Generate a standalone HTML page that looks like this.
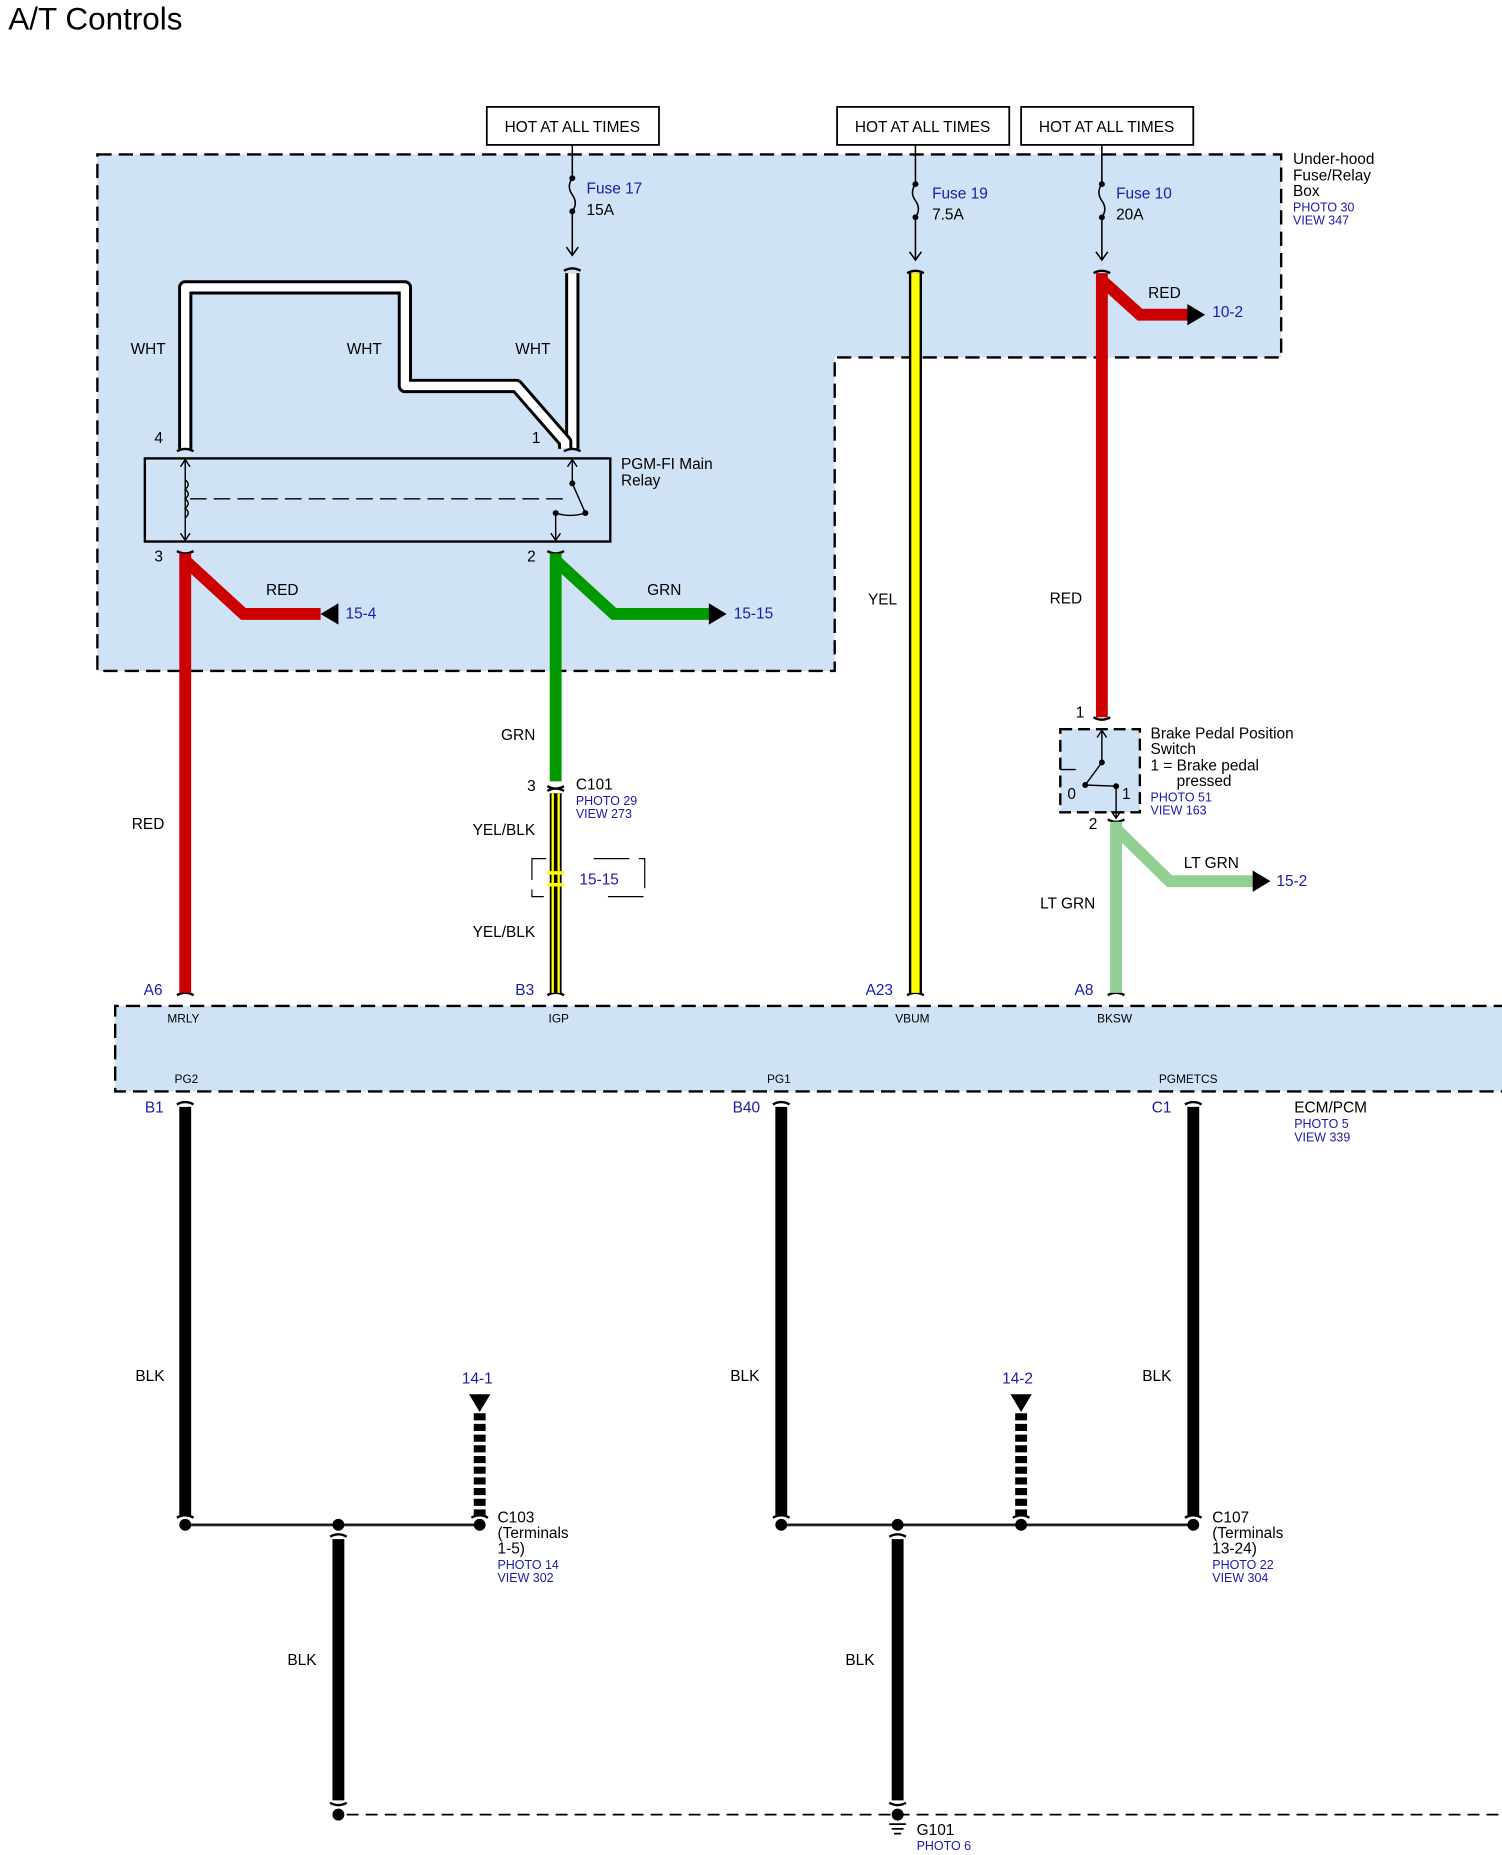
<!DOCTYPE html>
<html><head><meta charset="utf-8"><style>
html,body{margin:0;padding:0;background:#fff;}
svg{display:block;}
text{font-family:"Liberation Sans",Arial,sans-serif;font-size:13px;fill:#000;}
.b{fill:#1a1aa8;}
.s{font-size:10.5px;}
.x{font-size:10px;}
</style></head><body>
<svg width="1502" height="1855" viewBox="0 0 1265 1562" preserveAspectRatio="none" xmlns="http://www.w3.org/2000/svg">
<text x="7" y="25" style="font-size:26.5px">A/T Controls</text>
<!-- upper box -->
<path d="M82,130 H1079 V301 H703 V565 H82 Z" fill="#d0e2f5" stroke="#000" stroke-width="2" stroke-dasharray="12,6"/>
<!-- ECM box -->
<path d="M1270,847 H97 V919 H1270" fill="#d0e2f5" stroke="#000" stroke-width="2" stroke-dasharray="12,6"/>
<!-- HOT boxes -->
<g fill="#fff" stroke="#000" stroke-width="1.5">
<rect x="410" y="90" width="145" height="32"/><rect x="705" y="90" width="145" height="32"/><rect x="860" y="90" width="145" height="32"/>
</g>
<text x="482" y="111" text-anchor="middle">HOT AT ALL TIMES</text>
<text x="777" y="111" text-anchor="middle">HOT AT ALL TIMES</text>
<text x="932" y="111" text-anchor="middle">HOT AT ALL TIMES</text>
<text x="1089" y="138">Under-hood</text><text x="1089" y="152">Fuse/Relay</text><text x="1089" y="165">Box</text>
<text x="1089" y="178" class="b s">PHOTO 30</text><text x="1089" y="189" class="b s">VIEW 347</text>
<!-- fuses -->
<g fill="none" stroke="#000" stroke-width="1.3">
<path d="M482,122 V150 q-5,7 0,14 q5,7 0,14 V214 M477,208 L482,215 L487,208"/>
<path d="M771,122 V155 q-5,7 0,14 q5,7 0,14 V218 M766,212 L771,219 L776,212"/>
<path d="M928,122 V155 q-5,7 0,14 q5,7 0,14 V218 M923,212 L928,219 L933,212"/>
</g>
<g fill="#000"><circle cx="482" cy="150" r="2.5"/><circle cx="482" cy="178" r="2.5"/><circle cx="771" cy="155" r="2.5"/><circle cx="771" cy="183" r="2.5"/><circle cx="928" cy="155" r="2.5"/><circle cx="928" cy="183" r="2.5"/></g>
<text x="494" y="163" class="b">Fuse 17</text><text x="494" y="181">15A</text>
<text x="785" y="167" class="b">Fuse 19</text><text x="785" y="185">7.5A</text>
<text x="940" y="167" class="b">Fuse 10</text><text x="940" y="185">20A</text>
<!-- white wires -->
<g fill="none" stroke-linejoin="round">
<path d="M482,230 V378" stroke="#000" stroke-width="12"/>
<path d="M482,230 V378" stroke="#fff" stroke-width="7"/>
<path d="M156,378 V242 H341 V325 H435 L476,372 V378" stroke="#000" stroke-width="12"/>
<path d="M156,378 V242 H341 V325 H435 L476,372 V378" stroke="#fff" stroke-width="7"/>
</g>
<text x="110" y="298">WHT</text><text x="292" y="298">WHT</text><text x="434" y="298">WHT</text>
<text x="130" y="373">4</text><text x="448" y="373">1</text>
<!-- relay -->
<rect x="122" y="386" width="392" height="70" fill="none" stroke="#000" stroke-width="2"/>
<text x="523" y="395">PGM-FI Main</text><text x="523" y="409">Relay</text>
<g fill="none" stroke="#000" stroke-width="1.2">
<path d="M156,388 V454 M152,393 L156,387 L160,393 M152,449 L156,455 L160,449"/>
<path d="M156,404 q5,4 0,8 q5,4 0,8 q5,4 0,8 q5,4 0,8"/>
<path d="M160,420 H478" stroke-dasharray="14,6"/>
<path d="M482,388 V407 L493,432 M478,393 L482,387 L486,393"/>
<path d="M468,432 V454 M464,449 L468,455 L472,449 M468,432 Q480,436 493,432" />
</g>
<circle cx="482" cy="407" r="2.5"/><circle cx="493" cy="432" r="2.5"/><circle cx="468" cy="432" r="2.5"/>
<text x="130" y="473">3</text><text x="444" y="473">2</text>
<!-- connector ticks -->
<g fill="none" stroke="#000" stroke-width="2">
<path d="M149,380 q7,-4 14,0 M475,380 q7,-4 14,0 M475,228 q7,-4 14,0 M764,230 q7,-4 14,0 M921,230 q7,-4 14,0"/>
<path d="M149,464 q7,4 14,0 M461,464 q7,4 14,0 M461,662 q7,4 14,0 M461,666 q7,-4 14,0 M921,604 q7,4 14,0 M933,690 q7,4 14,0"/>
<path d="M149,838 q7,-4 14,0 M461,838 q7,-4 14,0 M764,838 q7,-4 14,0 M933,838 q7,-4 14,0"/>
<path d="M149,930 q7,-4 14,0 M651,930 q7,-4 14,0 M998,930 q7,-4 14,0"/>
<path d="M149,1278 q7,-4 14,0 M651,1278 q7,-4 14,0 M998,1278 q7,-4 14,0 M397,1278 q7,-4 14,0 M853,1278 q7,-4 14,0"/>
<path d="M278,1294 q7,-4 14,0 M749,1294 q7,-4 14,0 M278,1518 q7,4 14,0 M749,1518 q7,4 14,0"/>
</g>
<!-- red wires -->
<g fill="none" stroke="#cc0000" stroke-width="10">
<path d="M156,466 V836"/><path d="M156,472 L205,517 H270"/>
<path d="M928,230 V604"/><path d="M928,236 L960,265 H1002"/>
</g>
<path d="M270,517 L285,508 V526 Z"/>
<path d="M1015,265 L1000,256 V274 Z"/>
<text x="224" y="501">RED</text><text x="291" y="521" class="b">15-4</text>
<text x="967" y="251">RED</text><text x="1021" y="267" class="b">10-2</text>
<text x="884" y="508">RED</text><text x="111" y="698">RED</text>
<!-- green -->
<g fill="none" stroke="#009900" stroke-width="10"><path d="M468,466 V658"/><path d="M468,472 L517,517 H598"/></g>
<path d="M612,517 L597,508 V526 Z"/>
<text x="545" y="501">GRN</text><text x="618" y="521" class="b">15-15</text><text x="422" y="623">GRN</text>
<!-- C101 -->
<text x="444" y="666">3</text><text x="485" y="665">C101</text>
<text x="485" y="678" class="b s">PHOTO 29</text><text x="485" y="689" class="b s">VIEW 273</text>
<path d="M468,668 V836" stroke="#000" stroke-width="10"/>
<path d="M465.5,668 V836 M470.5,668 V836" stroke="#ffff00" stroke-width="2"/>
<path d="M461,735 H475 M461,745 H475" stroke="#ffff00" stroke-width="3"/>
<path d="M460,723 H448 V755 H458 M500,723 H543 V755 H510" fill="none" stroke="#000" stroke-width="1" stroke-dasharray="30,8"/>
<text x="488" y="745" class="b">15-15</text>
<text x="398" y="703">YEL/BLK</text><text x="398" y="789">YEL/BLK</text>
<!-- yellow -->
<path d="M771,230 V836" stroke="#000" stroke-width="11"/>
<path d="M771,230 V836" stroke="#ffff00" stroke-width="7"/>
<text x="731" y="509">YEL</text>
<!-- brake switch -->
<rect x="893" y="614" width="67" height="70" fill="#d0e2f5" stroke="#000" stroke-width="2" stroke-dasharray="10,5"/>
<g fill="none" stroke="#000" stroke-width="1.2">
<path d="M928,616 V642 L914,661 M924,621 L928,615 L932,621"/>
<path d="M940,662 V688 M936,683 L940,689 L944,683 M914,661 L940,662" />
<path d="M893,648 H906"/>
</g>
<circle cx="928" cy="642" r="2.5"/><circle cx="914" cy="661" r="2.5"/><circle cx="940" cy="662" r="2.5"/>
<text x="899" y="673">0</text><text x="945" y="673">1</text>
<text x="906" y="604">1</text><text x="917" y="698">2</text>
<text x="969" y="622">Brake Pedal Position</text><text x="969" y="635">Switch</text>
<text x="969" y="649">1 = Brake pedal</text><text x="991" y="662">pressed</text>
<text x="969" y="675" class="b s">PHOTO 51</text><text x="969" y="686" class="b s">VIEW 163</text>
<g fill="none" stroke="#92cf92" stroke-width="10"><path d="M940,692 V836"/><path d="M940,698 L985,742 H1057"/></g>
<path d="M1070,742 L1055,733 V751 Z"/>
<text x="997" y="731">LT GRN</text><text x="1075" y="746" class="b">15-2</text><text x="876" y="765">LT GRN</text>
<!-- pin labels -->
<text x="121" y="838" class="b">A6</text><text x="434" y="838" class="b">B3</text><text x="729" y="838" class="b">A23</text><text x="905" y="838" class="b">A8</text>
<text x="141" y="861" class="x">MRLY</text><text x="462" y="861" class="x">IGP</text><text x="754" y="861" class="x">VBUM</text><text x="924" y="861" class="x">BKSW</text>
<text x="147" y="912" class="x">PG2</text><text x="646" y="912" class="x">PG1</text><text x="976" y="912" class="x">PGMETCS</text>
<text x="122" y="937" class="b">B1</text><text x="617" y="937" class="b">B40</text><text x="970" y="937" class="b">C1</text>
<text x="1090" y="937">ECM/PCM</text><text x="1090" y="950" class="b s">PHOTO 5</text><text x="1090" y="961" class="b s">VIEW 339</text>
<!-- black wires -->
<g stroke="#000" stroke-width="10" fill="none">
<path d="M156,932 V1276 M658,932 V1276 M1005,932 V1276 M285,1296 V1516 M756,1296 V1516"/>
</g>
<g stroke="#000" stroke-width="10" fill="none" stroke-dasharray="6,3"><path d="M404,1190 V1276 M860,1190 V1276"/></g>
<path d="M395,1174 H413 L404,1189 Z M851,1174 H869 L860,1189 Z"/>
<text x="389" y="1165" class="b">14-1</text><text x="844" y="1165" class="b">14-2</text>
<path d="M156,1284 H404 M658,1284 H1005" stroke="#555" stroke-width="2.5"/>
<path d="M156,1284 H404 M658,1284 H1005" stroke="#000" stroke-width="1"/>
<g fill="#000"><circle cx="156" cy="1284" r="5"/><circle cx="285" cy="1284" r="5"/><circle cx="404" cy="1284" r="5"/><circle cx="658" cy="1284" r="5"/><circle cx="756" cy="1284" r="5"/><circle cx="860" cy="1284" r="5"/><circle cx="1005" cy="1284" r="5"/><circle cx="285" cy="1528" r="5"/><circle cx="756" cy="1528" r="5"/></g>
<text x="114" y="1163">BLK</text><text x="615" y="1163">BLK</text><text x="962" y="1163">BLK</text>
<text x="242" y="1402">BLK</text><text x="712" y="1402">BLK</text>
<text x="419" y="1282">C103</text><text x="419" y="1295">(Terminals</text><text x="419" y="1308">1-5)</text>
<text x="419" y="1321" class="b s">PHOTO 14</text><text x="419" y="1332" class="b s">VIEW 302</text>
<text x="1021" y="1282">C107</text><text x="1021" y="1295">(Terminals</text><text x="1021" y="1308">13-24)</text>
<text x="1021" y="1321" class="b s">PHOTO 22</text><text x="1021" y="1332" class="b s">VIEW 304</text>
<path d="M292,1528 H1265" stroke="#000" stroke-width="1.5" stroke-dasharray="10,6"/>
<path d="M749,1536 H763 M751,1540 H761 M753,1544 H759" stroke="#000" stroke-width="1.5"/>
<text x="772" y="1545">G101</text><text x="772" y="1558" class="b s">PHOTO 6</text>
</svg>
</body></html>
